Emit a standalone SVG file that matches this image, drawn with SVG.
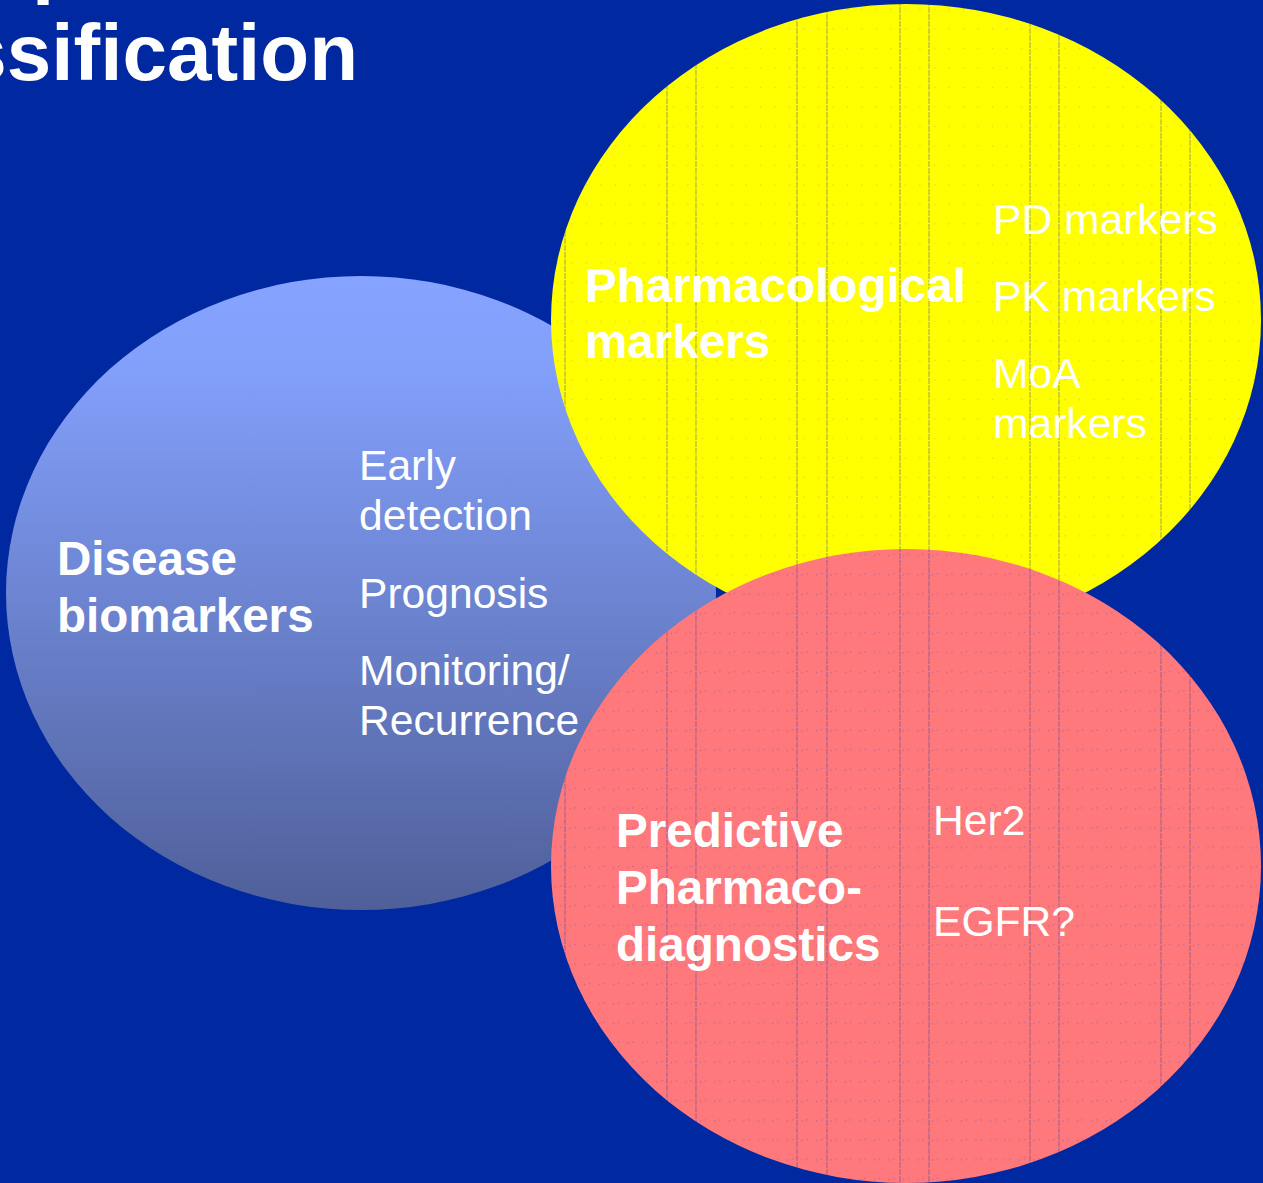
<svg xmlns="http://www.w3.org/2000/svg" width="1263" height="1183" viewBox="0 0 1263 1183">
  <style>
    .bold { font-family: "Liberation Sans", Arial, sans-serif; font-weight: bold; fill: #ffffff; font-size: 47.6px; }
    .reg { font-family: "Liberation Sans", Arial, sans-serif; fill: #ffffff; font-size: 42.6px; }
    .title { font-family: "Liberation Sans", Arial, sans-serif; font-weight: bold; fill: #ffffff; font-size: 80px; }
    .rule { stroke: #2a3aa0; stroke-width: 1.2; stroke-opacity: 0.38; stroke-dasharray: 6 1; }
  </style>
  <defs>
    <linearGradient id="blueFill" x1="0" y1="0" x2="0" y2="1">
      <stop offset="0" stop-color="#86a3ff"/>
      <stop offset="0.15" stop-color="#829ffa"/>
      <stop offset="1" stop-color="#4f5f99"/>
    </linearGradient>
    <pattern id="dotsY" width="14.5" height="19.5" patternUnits="userSpaceOnUse">
      <rect x="6" y="9" width="1" height="1" fill="#7a7a50" fill-opacity="0.45"/>
    </pattern>
    <pattern id="dotsP" width="14.5" height="19.5" patternUnits="userSpaceOnUse">
      <rect x="4" y="9" width="1" height="1" fill="#3a40b0" fill-opacity="0.6"/>
      <rect x="9" y="8" width="1" height="1" fill="#3a40b0" fill-opacity="0.6"/>
    </pattern>
    <clipPath id="clipY"><ellipse cx="906" cy="320" rx="355" ry="316"/></clipPath>
    <clipPath id="clipP"><ellipse cx="906" cy="866" rx="355" ry="317"/></clipPath>
    <!-- thin vertical rules that run across the two right-hand ellipses -->
    <g id="rules" class="rule">
      <line x1="565" y1="0" x2="565" y2="1183"/>
      <line x1="667" y1="0" x2="667" y2="1183"/>
      <line x1="696" y1="0" x2="696" y2="1183"/>
      <line x1="797" y1="0" x2="797" y2="1183"/>
      <line x1="827" y1="0" x2="827" y2="1183"/>
      <line x1="900" y1="0" x2="900" y2="1183"/>
      <line x1="929" y1="0" x2="929" y2="1183"/>
      <line x1="1030" y1="0" x2="1030" y2="1183"/>
      <line x1="1059" y1="0" x2="1059" y2="1183"/>
      <line x1="1161" y1="0" x2="1161" y2="1183"/>
      <line x1="1190" y1="0" x2="1190" y2="1183"/>
    </g>
  </defs>

  <!-- background -->
  <rect x="0" y="0" width="1263" height="1183" fill="#0028a0"/>

  <!-- slide title (cut off at the top-left) -->
  <g id="title">
    <text class="title" x="32" y="-12">p</text>
    <text class="title" x="358" y="80" text-anchor="end">ssification</text>
  </g>

  <!-- Disease biomarkers -->
  <g id="disease">
    <ellipse cx="361" cy="593" rx="355" ry="317" fill="url(#blueFill)"/>
    <text class="bold" x="57" y="575">Disease</text>
    <text class="bold" x="57" y="632">biomarkers</text>
    <text class="reg" x="359" y="480">Early</text>
    <text class="reg" x="359" y="530">detection</text>
    <text class="reg" x="359" y="608">Prognosis</text>
    <text class="reg" x="359" y="685">Monitoring/</text>
    <text class="reg" x="359" y="735">Recurrence</text>
  </g>

  <!-- Pharmacological markers -->
  <g id="pharmacological">
    <ellipse cx="906" cy="320" rx="355" ry="316" fill="#ffff00"/>
    <g clip-path="url(#clipY)">
      <rect x="550" y="0" width="713" height="640" fill="url(#dotsY)"/>
      <use href="#rules"/>
    </g>
    <text class="bold" x="585" y="302">Pharmacological</text>
    <text class="bold" x="585" y="358">markers</text>
    <text class="reg" x="993" y="234">PD markers</text>
    <text class="reg" x="993" y="311">PK markers</text>
    <text class="reg" x="993" y="388">MoA</text>
    <text class="reg" x="993" y="438">markers</text>
  </g>

  <!-- Predictive pharmaco-diagnostics -->
  <g id="predictive">
    <ellipse cx="906" cy="866" rx="355" ry="317" fill="#ff797c"/>
    <g clip-path="url(#clipP)">
      <rect x="550" y="548" width="713" height="635" fill="url(#dotsP)"/>
      <use href="#rules"/>
    </g>
    <text class="bold" x="616" y="847">Predictive</text>
    <text class="bold" x="616" y="904">Pharmaco-</text>
    <text class="bold" x="616" y="961">diagnostics</text>
    <text class="reg" x="933" y="835">Her2</text>
    <text class="reg" x="933" y="936">EGFR?</text>
  </g>

  <!-- no connectors in this diagram -->
  <g id="connectors"/>
</svg>
